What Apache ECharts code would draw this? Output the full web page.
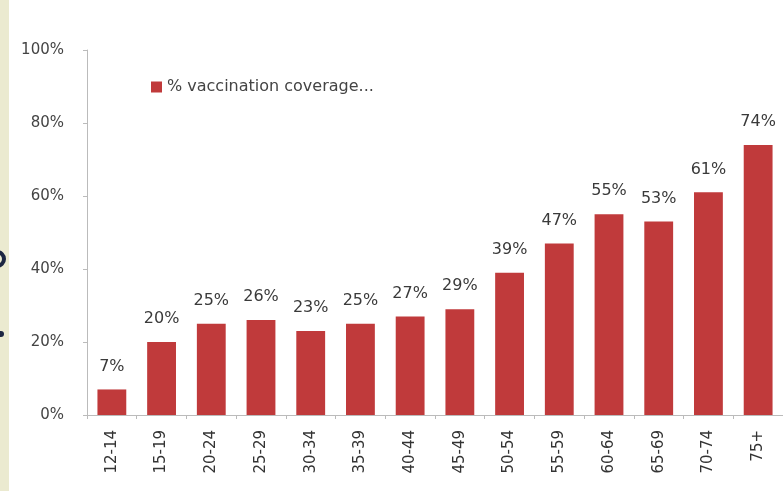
<!DOCTYPE html>
<html><head><meta charset="utf-8">
<script src="https://cdn.jsdelivr.net/npm/echarts@6/dist/echarts.min.js"></script>
<style>html,body{margin:0;padding:0;background:#fff}#c{width:783px;height:491px}</style>
</head><body><div id="c"></div>
<script>
const categories = ['12-14','15-19','20-24','25-29','30-34','35-39','40-44','45-49','50-54','55-59','60-64','65-69','70-74','75+'];
const coverage = [7,20,25,26,23,25,27,29,39,47,55,53,61,74];
const yTicks = [0,20,40,60,80,100];
const seriesName = '% vaccination coverage...';

const FONT = 'DejaVu Sans';
const chart = echarts.init(document.getElementById('c'));
chart.setOption({
  animation: false,
  backgroundColor: '#fff',
  graphic: [
    {type:'rect', shape:{x:0,y:0,width:9,height:491}, style:{fill:'#ebead0'}, z:-1},
    {type:'circle', shape:{cx:-3, cy:259, r:7}, style:{fill:'none', stroke:'#1c2642', lineWidth:4}},
    {type:'circle', shape:{cx:1, cy:334, r:3}, style:{fill:'#1c2642'}}
  ],
  legend: {
    left: 146, top: 74, itemWidth: 11, itemHeight: 11, itemGap: 4,
    textStyle: {fontFamily: FONT, fontSize: 16, color:'#444'},
    data: [seriesName], icon: 'rect'
  },
  grid: {left: 87, top: 50, width: 704, bottom: 76, containLabel: false},
  xAxis: {
    type: 'category', data: categories,
    axisLine: {lineStyle:{color:'#bbb'}},
    axisTick: {show:true, length:4, lineStyle:{color:'#bbb'}},
    axisLabel: {rotate: 90, fontFamily: FONT, fontSize: 15, color:'#333', margin: 15}
  },
  yAxis: {
    type: 'value', min: yTicks[0], max: yTicks[yTicks.length-1], interval: 20,
    axisLine: {show:true, lineStyle:{color:'#bbb'}},
    axisTick: {show:true, length:4, lineStyle:{color:'#bbb'}},
    splitLine: {show:false},
    axisLabel: {formatter: v => v + '%', fontFamily: FONT, fontSize: 15, color:'#444', margin: 23}
  },
  series: [{
    name: seriesName, type: 'bar', data: coverage, barCategoryGap: '42%',
    itemStyle: {color: '#c03a3b'},
    label: {show:true, position:'top', distance: 15, formatter: p => p.value + '%',
      fontFamily: FONT, fontSize: 16, color:'#3a3a3a'}
  }]
});
</script></body></html>
